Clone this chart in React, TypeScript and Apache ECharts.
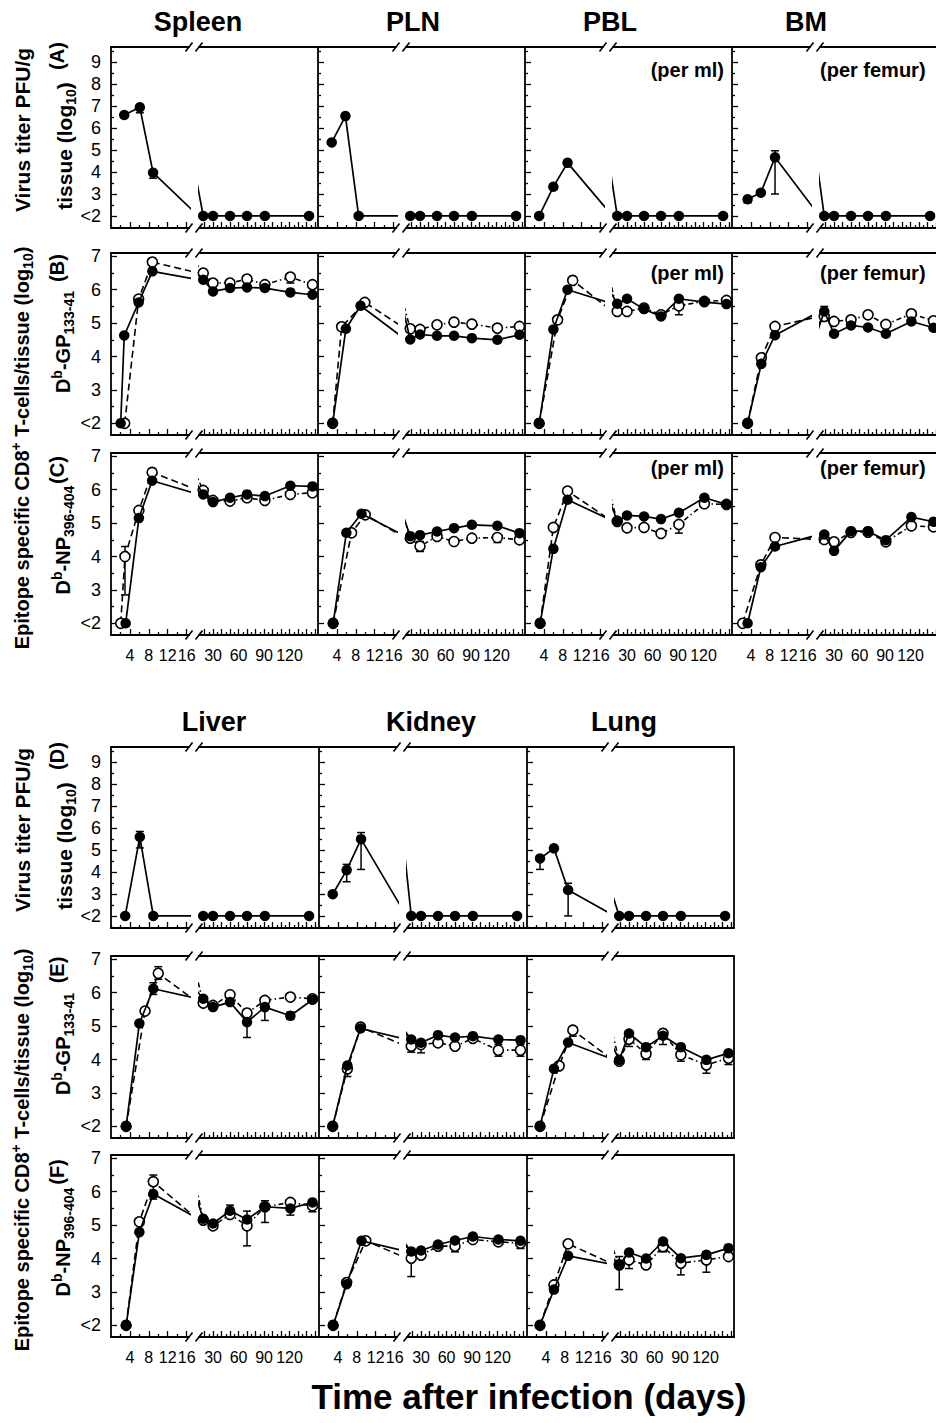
import React, { useEffect, useRef } from "react";
import * as echarts from "echarts";

type Pt = [number, number];
type Err = [number, number, number];

// ---------------- tick values / labels ----------------
const X_LABELS_EARLY = [4, 8, 12, 16];
const X_LABELS_LATE = [30, 60, 90, 120];
const X_MAJOR_EARLY = [4, 8, 12, 16];
const X_MINOR_EARLY = [2, 6, 10, 14];
const X_MAJOR_LATE = [20, 30, 40, 50, 60, 70, 80, 90, 100, 110, 120, 130, 140, 150];
const X_MINOR_LATE = [15, 25, 35, 45, 55, 65, 75, 85, 95, 105, 115, 125, 135, 145];
const Y_TICKS_VIRUS = [2, 3, 4, 5, 6, 7, 8, 9];
const Y_TICKS_T = [2, 3, 4, 5, 6, 7];

// late time points (days)
const LATE_V = [18.5, 30, 50, 70, 91, 143];
const LATE_T = [18.5, 30, 50, 70, 91, 121, 147];

// ---------------- Spleen ----------------
const SPLEEN_A_F: Pt[] = [[2.8, 6.6], [6.1, 6.95], [8.9, 3.97]];
const SPLEEN_A_FL = [2, 2, 2, 2, 2, 2];
const SPLEEN_A_E: Err[] = [[6.1, 6.7, 6.95], [8.9, 3.72, 4.02]];
const SPLEEN_B_F: Pt[] = [[2.05, 2], [2.8, 4.63], [5.85, 5.62], [8.75, 6.55]];
const SPLEEN_B_FL = [6.3, 5.95, 6.05, 6.07, 6.05, 5.92, 5.85];
const SPLEEN_B_O: Pt[] = [[2.9, 2], [5.85, 5.72], [8.75, 6.83]];
const SPLEEN_B_OL = [6.5, 6.2, 6.2, 6.32, 6.15, 6.38, 6.15];
const SPLEEN_B_E: Err[] = [[121, 6.2, 6.42]];
const SPLEEN_C_F: Pt[] = [[3.1, 2], [5.9, 5.15], [8.7, 6.27]];
const SPLEEN_C_FL = [5.86, 5.63, 5.76, 5.86, 5.81, 6.12, 6.1];
const SPLEEN_C_O: Pt[] = [[2.05, 2], [2.96, 4.0], [5.9, 5.38], [8.7, 6.52]];
const SPLEEN_C_OL = [5.98, 5.68, 5.66, 5.76, 5.68, 5.86, 5.91];
const SPLEEN_C_E: Err[] = [[2.96, 2.85, 4.3]];

// ---------------- PLN ----------------
const PLN_A_F: Pt[] = [[2.9, 5.35], [5.8, 6.55], [8.6, 2]];
const PLN_A_FL = [2, 2, 2, 2, 2, 2];
const PLN_B_F: Pt[] = [[3.1, 2], [5.9, 4.83], [9.0, 5.52]];
const PLN_B_FL = [4.51, 4.66, 4.62, 4.62, 4.55, 4.5, 4.65];
const PLN_B_O: Pt[] = [[3.1, 2], [5.0, 4.89], [9.9, 5.62]];
const PLN_B_OL = [4.83, 4.81, 4.95, 5.03, 4.97, 4.85, 4.9];
const PLN_C_F: Pt[] = [[3.2, 2], [6.0, 4.71], [9.2, 5.28]];
const PLN_C_FL = [4.61, 4.64, 4.75, 4.85, 4.95, 4.92, 4.7];
const PLN_C_O: Pt[] = [[3.2, 2], [7.1, 4.71], [10.0, 5.25]];
const PLN_C_OL = [4.55, 4.31, 4.6, 4.45, 4.55, 4.57, 4.5];
const PLN_C_E: Err[] = [[30, 4.15, 4.45], [121, 4.42, 4.62]];

// ---------------- PBL ----------------
const PBL_A_F: Pt[] = [[3.0, 2], [6.0, 3.33], [9.0, 4.42]];
const PBL_A_FL = [2, 2, 2, 2, 2, 2];
const PBL_B_F: Pt[] = [[3.0, 2], [6.0, 4.81], [9.0, 6.0]];
const PBL_B_FL = [5.58, 5.73, 5.42, 5.2, 5.73, 5.63, 5.57];
const PBL_B_O: Pt[] = [[3.0, 2], [6.9, 5.1], [10.1, 6.28]];
const PBL_B_OL = [5.35, 5.35, 5.45, 5.25, 5.52, 5.65, 5.68];
const PBL_B_E: Err[] = [[91, 5.25, 5.55]];
const PBL_C_F: Pt[] = [[3.2, 2], [6.0, 4.23], [9.0, 5.7]];
const PBL_C_FL = [5.07, 5.23, 5.2, 5.12, 5.31, 5.76, 5.56];
const PBL_C_O: Pt[] = [[3.2, 2], [6.0, 4.87], [9.0, 5.96]];
const PBL_C_OL = [5.05, 4.86, 4.87, 4.69, 4.96, 5.58, 5.56];
const PBL_C_E: Err[] = [[91, 4.7, 5.0]];

// ---------------- BM ----------------
const BM_A_F: Pt[] = [[3.3, 2.76], [6.1, 3.06], [9.1, 4.67]];
const BM_A_FL = [2, 2, 2, 2, 2, 2];
const BM_A_E: Err[] = [[3.3, 2.6, 2.85], [9.1, 3.0, 4.97]];
const BM_B_F: Pt[] = [[3.3, 2], [6.2, 3.78], [9.1, 4.64]];
const BM_B_FL = [5.35, 4.68, 4.93, 4.87, 4.68, 5.05, 4.86];
const BM_B_O: Pt[] = [[3.3, 2], [6.2, 3.96], [9.1, 4.9]];
const BM_B_OL = [5.2, 5.05, 5.1, 5.25, 4.96, 5.28, 5.07];
const BM_B_E: Err[] = [[18.5, 5.15, 5.5]];
const BM_C_F: Pt[] = [[3.3, 2], [6.1, 3.68], [9.1, 4.3]];
const BM_C_FL = [4.66, 4.17, 4.76, 4.76, 4.49, 5.18, 5.04];
const BM_C_O: Pt[] = [[2.25, 2], [6.1, 3.75], [9.1, 4.57]];
const BM_C_OL = [4.51, 4.44, 4.72, 4.73, 4.44, 4.92, 4.89];

// ---------------- Liver ----------------
const LIVER_D_F: Pt[] = [[3.0, 2], [6.1, 5.6], [8.95, 2]];
const LIVER_D_FL = [2, 2, 2, 2, 2, 2];
const LIVER_D_E: Err[] = [[6.1, 5.1, 5.85]];
const LIVER_E_F: Pt[] = [[3.2, 2], [6.0, 5.08], [8.95, 6.12]];
const LIVER_E_FL = [5.82, 5.57, 5.72, 5.12, 5.57, 5.31, 5.79];
const LIVER_E_O: Pt[] = [[3.2, 2], [7.2, 5.45], [10.0, 6.58]];
const LIVER_E_OL = [5.69, 5.62, 5.94, 5.39, 5.77, 5.87, 5.82];
const LIVER_E_E: Err[] = [[8.95, 5.95, 6.3], [70, 4.66, 5.47], [91, 5.17, 5.6], [121, 5.2, 5.42], [10.0, 6.4, 6.78], [70, 5.2, 5.5]];
const LIVER_F_F: Pt[] = [[3.2, 2], [6.0, 4.79], [8.95, 5.93]];
const LIVER_F_FL = [5.19, 5.05, 5.43, 5.17, 5.55, 5.5, 5.68];
const LIVER_F_O: Pt[] = [[3.2, 2], [6.0, 5.1], [8.95, 6.3]];
const LIVER_F_OL = [5.15, 4.98, 5.32, 4.98, 5.55, 5.68, 5.58];
const LIVER_F_E: Err[] = [[8.95, 5.78, 6.5], [50, 5.27, 5.6], [70, 4.38, 5.42], [91, 5.08, 5.73], [121, 5.3, 5.6], [147, 5.4, 5.7]];

// ---------------- Kidney ----------------
const KIDNEY_D_F: Pt[] = [[2.9, 2.99], [5.85, 4.09], [8.9, 5.5]];
const KIDNEY_D_FL = [2, 2, 2, 2, 2, 2];
const KIDNEY_D_E: Err[] = [[5.85, 3.56, 4.35], [8.9, 4.12, 5.8]];
const KIDNEY_E_F: Pt[] = [[2.9, 2], [6.0, 3.82], [8.8, 4.93]];
const KIDNEY_E_FL = [4.6, 4.5, 4.73, 4.66, 4.7, 4.6, 4.58];
const KIDNEY_E_O: Pt[] = [[2.9, 2], [6.0, 3.72], [8.8, 4.97]];
const KIDNEY_E_OL = [4.4, 4.45, 4.5, 4.4, 4.63, 4.28, 4.28];
const KIDNEY_E_E: Err[] = [[6.0, 3.49, 3.9], [18.5, 4.22, 4.55], [30, 4.2, 4.5], [121, 4.1, 4.45], [147, 4.1, 4.45]];
const KIDNEY_F_F: Pt[] = [[3.0, 2], [5.85, 3.23], [9.0, 4.53]];
const KIDNEY_F_FL = [4.21, 4.24, 4.42, 4.54, 4.66, 4.57, 4.53];
const KIDNEY_F_O: Pt[] = [[3.0, 2], [5.85, 3.28], [9.9, 4.53]];
const KIDNEY_F_OL = [4.01, 4.1, 4.37, 4.37, 4.57, 4.5, 4.46];
const KIDNEY_F_E: Err[] = [[18.5, 3.46, 4.3], [70, 4.2, 4.55], [147, 4.3, 4.6]];

// ---------------- Lung ----------------
const LUNG_D_F: Pt[] = [[2.75, 4.62], [5.7, 5.08], [8.7, 3.18]];
const LUNG_D_FL = [2, 2, 2, 2, 2, 2];
const LUNG_D_E: Err[] = [[2.75, 4.12, 4.75], [8.7, 2.0, 3.49]];
const LUNG_E_F: Pt[] = [[2.75, 2], [5.7, 3.72], [8.7, 4.51]];
const LUNG_E_FL = [3.99, 4.78, 4.37, 4.71, 4.37, 3.99, 4.19];
const LUNG_E_O: Pt[] = [[2.75, 2], [6.8, 3.81], [9.7, 4.88]];
const LUNG_E_OL = [3.95, 4.61, 4.17, 4.78, 4.14, 3.84, 4.04];
const LUNG_E_E: Err[] = [[9.7, 4.7, 4.95], [30, 4.39, 4.75], [50, 4.0, 4.3], [70, 4.45, 4.9], [91, 3.95, 4.3], [121, 3.59, 4.0], [147, 3.85, 4.15]];
const LUNG_F_F: Pt[] = [[2.75, 2], [5.7, 3.07], [8.7, 4.08]];
const LUNG_F_FL = [3.81, 4.18, 4.0, 4.51, 4.01, 4.11, 4.31];
const LUNG_F_O: Pt[] = [[2.75, 2], [5.7, 3.21], [8.7, 4.44]];
const LUNG_F_OL = [3.81, 3.96, 3.81, 4.36, 3.86, 3.96, 4.06];
const LUNG_F_E: Err[] = [[18.5, 3.07, 4.06], [30, 3.7, 4.1], [70, 4.2, 4.55], [91, 3.51, 4.0], [121, 3.59, 4.2]];

// ---------------- layout ----------------
const FONT = '"Liberation Sans", Arial, Helvetica, sans-serif';
const PANEL_W = 207;
const SEG_L_W = 78;
const SEG_R_OFF = 88;
const LEFT_DOMAIN: [number, number] = [0, 16.5];
const RIGHT_DOMAIN: [number, number] = [13.5, 153.5];
const VIRUS_RANGE: [number, number] = [1.45, 9.7];
const T_RANGE: [number, number] = [1.65, 7.1];

interface Row { f: Pt[]; fl: number[]; o?: Pt[]; ol?: number[]; e?: Err[] }
const row = (f: Pt[], fl: number[], o?: Pt[], ol?: number[], e?: Err[]): Row => ({ f, fl, o, ol, e });

const TOP_ROWS = [
  { top: 47, h: 181, virus: true },
  { top: 253, h: 182, virus: false },
  { top: 453, h: 182, virus: false },
];
const BOT_ROWS = [
  { top: 747, h: 181, virus: true },
  { top: 956, h: 182, virus: false },
  { top: 1155, h: 182, virus: false },
];

const TOP_PANELS = [
  { L: 111, title: "Spleen", tx: 198, rows: [row(SPLEEN_A_F, SPLEEN_A_FL, undefined, undefined, SPLEEN_A_E), row(SPLEEN_B_F, SPLEEN_B_FL, SPLEEN_B_O, SPLEEN_B_OL, SPLEEN_B_E), row(SPLEEN_C_F, SPLEEN_C_FL, SPLEEN_C_O, SPLEEN_C_OL, SPLEEN_C_E)] },
  { L: 318, title: "PLN", tx: 413, rows: [row(PLN_A_F, PLN_A_FL), row(PLN_B_F, PLN_B_FL, PLN_B_O, PLN_B_OL), row(PLN_C_F, PLN_C_FL, PLN_C_O, PLN_C_OL, PLN_C_E)] },
  { L: 525, title: "PBL", tx: 610, rows: [row(PBL_A_F, PBL_A_FL), row(PBL_B_F, PBL_B_FL, PBL_B_O, PBL_B_OL, PBL_B_E), row(PBL_C_F, PBL_C_FL, PBL_C_O, PBL_C_OL, PBL_C_E)] },
  { L: 732, title: "BM", tx: 806, rows: [row(BM_A_F, BM_A_FL, undefined, undefined, BM_A_E), row(BM_B_F, BM_B_FL, BM_B_O, BM_B_OL, BM_B_E), row(BM_C_F, BM_C_FL, BM_C_O, BM_C_OL)] },
];
const BOT_PANELS = [
  { L: 111, title: "Liver", tx: 214, rows: [row(LIVER_D_F, LIVER_D_FL, undefined, undefined, LIVER_D_E), row(LIVER_E_F, LIVER_E_FL, LIVER_E_O, LIVER_E_OL, LIVER_E_E), row(LIVER_F_F, LIVER_F_FL, LIVER_F_O, LIVER_F_OL, LIVER_F_E)] },
  { L: 319, title: "Kidney", tx: 431, rows: [row(KIDNEY_D_F, KIDNEY_D_FL, undefined, undefined, KIDNEY_D_E), row(KIDNEY_E_F, KIDNEY_E_FL, KIDNEY_E_O, KIDNEY_E_OL, KIDNEY_E_E), row(KIDNEY_F_F, KIDNEY_F_FL, KIDNEY_F_O, KIDNEY_F_OL, KIDNEY_F_E)] },
  { L: 527, title: "Lung", tx: 624, rows: [row(LUNG_D_F, LUNG_D_FL, undefined, undefined, LUNG_D_E), row(LUNG_E_F, LUNG_E_FL, LUNG_E_O, LUNG_E_OL, LUNG_E_E), row(LUNG_F_F, LUNG_F_FL, LUNG_F_O, LUNG_F_OL, LUNG_F_E)] },
];

const RICH = {
  sub: { fontSize: 14, fontWeight: "bold", fontFamily: FONT, verticalAlign: "bottom", lineHeight: 14, fill: "#000" },
  sup: { fontSize: 14, fontWeight: "bold", fontFamily: FONT, verticalAlign: "top", lineHeight: 14, fill: "#000" },
};

function txt(x: number, y: number, text: string, size: number, opts: any = {}) {
  return {
    type: "text",
    x,
    y,
    rotation: opts.rot || 0,
    z: 20,
    style: {
      text,
      fontSize: size,
      fontWeight: opts.weight || "bold",
      fontFamily: FONT,
      fill: "#000",
      lineHeight: opts.lineHeight || size + 6,
      align: opts.align || "center",
      verticalAlign: "middle",
      textAlign: opts.align || "center",
      textVerticalAlign: "middle",
      rich: opts.rich,
    },
  };
}

function seriesData(early: Pt[], days: number[], late: number[]): Pt[] {
  return [...early, ...days.map((d, i) => [d, late[i]] as Pt)];
}

function buildOption() {
  const grid: any[] = [];
  const xAxis: any[] = [];
  const yAxis: any[] = [];
  const series: any[] = [];
  const graphic: any[] = [];
  const lineStyleAxis = { color: "#000", width: 1.8 };
  const tickStyle = { color: "#000", width: 1.3 };

  const addPanel = (L: number, top: number, h: number, virus: boolean, r: Row, firstCol: boolean, lastCol: boolean, bottomRow: boolean) => {
    const yr = virus ? VIRUS_RANGE : T_RANGE;
    const yMajor = virus ? Y_TICKS_VIRUS : Y_TICKS_T;
    const yMinor = (virus ? [1.5] : []).concat(yMajor.map((v) => v + 0.5).filter((v) => v < yr[1]));
    const lateDays = virus ? LATE_V : LATE_T;
    const filled = seriesData(r.f, lateDays, r.fl);
    const open = r.o && r.ol ? seriesData(r.o, lateDays, r.ol) : null;

    (["L", "R"] as const).forEach((seg) => {
      const gi = grid.length;
      const left = seg === "L" ? L : L + SEG_R_OFF;
      const width = seg === "L" ? SEG_L_W : PANEL_W - SEG_R_OFF;
      const dom = seg === "L" ? LEFT_DOMAIN : RIGHT_DOMAIN;
      grid.push({ left, top, width, height: h, containLabel: false, outerBoundsMode: "none", show: false });

      const xi = xAxis.length;
      xAxis.push({
        type: "value", gridIndex: gi, position: "bottom", min: dom[0], max: dom[1],
        axisLine: { show: true, onZero: false, lineStyle: lineStyleAxis },
        axisTick: { show: true, inside: true, length: 6, customValues: seg === "L" ? X_MAJOR_EARLY : X_MAJOR_LATE, lineStyle: tickStyle },
        axisLabel: { show: bottomRow, customValues: seg === "L" ? X_LABELS_EARLY : X_LABELS_LATE, color: "#000", fontSize: 16, fontFamily: FONT, margin: 12 },
        splitLine: { show: false },
      });
      xAxis.push({
        type: "value", gridIndex: gi, position: "bottom", min: dom[0], max: dom[1],
        axisLine: { show: false },
        axisTick: { show: true, inside: true, length: 3, customValues: seg === "L" ? X_MINOR_EARLY : X_MINOR_LATE, lineStyle: tickStyle },
        axisLabel: { show: false },
        splitLine: { show: false },
      });
      xAxis.push({
        type: "value", gridIndex: gi, position: "top", min: dom[0], max: dom[1],
        axisLine: { show: true, onZero: false, lineStyle: lineStyleAxis },
        axisTick: { show: false }, axisLabel: { show: false }, splitLine: { show: false },
      });

      const yi = yAxis.length;
      if (seg === "L") {
        yAxis.push({
          type: "value", gridIndex: gi, position: "left", min: yr[0], max: yr[1],
          axisLine: { show: true, onZero: false, lineStyle: lineStyleAxis },
          axisTick: { show: true, inside: true, length: 6, customValues: yMajor, lineStyle: tickStyle },
          axisLabel: {
            show: firstCol, customValues: yMajor, color: "#000", fontSize: 18, fontFamily: FONT, margin: 10,
            formatter: (v: number) => (v === 2 ? "<2" : String(v)),
          },
          splitLine: { show: false },
        });
        yAxis.push({
          type: "value", gridIndex: gi, position: "left", min: yr[0], max: yr[1],
          axisLine: { show: false },
          axisTick: { show: true, inside: true, length: 3, customValues: yMinor, lineStyle: tickStyle },
          axisLabel: { show: false }, splitLine: { show: false },
        });
      } else {
        yAxis.push({
          type: "value", gridIndex: gi, position: "right", min: yr[0], max: yr[1],
          axisLine: { show: lastCol, onZero: false, lineStyle: lineStyleAxis },
          axisTick: { show: false }, axisLabel: { show: false }, splitLine: { show: false },
        });
      }

      if (r.e) {
        const errs = r.e.filter((e) => e[0] >= dom[0] && e[0] <= dom[1]);
        if (errs.length) {
          series.push({
            type: "custom", xAxisIndex: xi, yAxisIndex: yi, data: errs, clip: true, z: 2,
            encode: { x: 0, y: [1, 2] },
            renderItem: (params: any, api: any) => {
              const x = api.value(0);
              const p1 = api.coord([x, api.value(1)]);
              const p2 = api.coord([x, api.value(2)]);
              const hw = 4;
              const st = { stroke: "#000", lineWidth: 1.5 };
              return {
                type: "group",
                children: [
                  { type: "line", shape: { x1: p1[0], y1: p1[1], x2: p2[0], y2: p2[1] }, style: st },
                  { type: "line", shape: { x1: p1[0] - hw, y1: p1[1], x2: p1[0] + hw, y2: p1[1] }, style: st },
                  { type: "line", shape: { x1: p2[0] - hw, y1: p2[1], x2: p2[0] + hw, y2: p2[1] }, style: st },
                ],
              };
            },
          });
        }
      }
      if (open) {
        series.push({
          type: "line", xAxisIndex: xi, yAxisIndex: yi, data: open, clip: true, z: 3,
          symbol: "circle", symbolSize: 10, showSymbol: true, showAllSymbol: true,
          lineStyle: { color: "#000", width: 1.6, type: seg === "L" ? [7, 4] : [5, 3, 1.5, 3] },
          itemStyle: { color: "#fff", borderColor: "#000", borderWidth: 1.6 },
          emphasis: { disabled: true },
        });
      }
      series.push({
        type: "line", xAxisIndex: xi, yAxisIndex: yi, data: filled, clip: true, z: 4,
        symbol: "circle", symbolSize: 10.5, showSymbol: true, showAllSymbol: true,
        lineStyle: { color: "#000", width: 1.7, type: "solid" },
        itemStyle: { color: "#000", borderColor: "#000", borderWidth: 0 },
        emphasis: { disabled: true },
      });
    });

    // break marks
    [top, top + h].forEach((yy) => {
      [L + SEG_L_W, L + SEG_R_OFF].forEach((cx) => {
        graphic.push({
          type: "line", z: 20,
          shape: { x1: cx - 3.5, y1: yy + 4.5, x2: cx + 3.5, y2: yy - 4.5 },
          style: { stroke: "#000", lineWidth: 1.6 },
        });
      });
    });
  };

  TOP_PANELS.forEach((p, ci) => {
    TOP_ROWS.forEach((rw, ri) => addPanel(p.L, rw.top, rw.h, rw.virus, p.rows[ri], ci === 0, ci === TOP_PANELS.length - 1, ri === 2));
    graphic.push(txt(p.tx, 22, p.title, 27));
  });
  BOT_PANELS.forEach((p, ci) => {
    BOT_ROWS.forEach((rw, ri) => addPanel(p.L, rw.top, rw.h, rw.virus, p.rows[ri], ci === 0, ci === BOT_PANELS.length - 1, ri === 2));
    graphic.push(txt(p.tx, 722, p.title, 27));
  });

  // per ml / per femur annotations
  [70, 273, 468].forEach((yy) => {
    graphic.push(txt(724, yy, "(per ml)", 20, { align: "right" }));
    graphic.push(txt(820, yy, "(per femur)", 20, { align: "left" }));
  });

  // Y axis titles (top & bottom blocks)
  const R = Math.PI / 2;
  [0, 700].forEach((dy, bi) => {
    const tdy = bi === 0 ? 0 : 702;
    graphic.push(txt(22, 130 + dy, "Virus titer PFU/g", 21, { rot: R }));
    graphic.push(txt(64, 146 + dy, "tissue (log{sub|10})", 21, { rot: R, rich: RICH, lineHeight: 27 }));
    graphic.push(txt(57, 56 + dy, bi === 0 ? "(A)" : "(D)", 20, { rot: R }));
    graphic.push(txt(22, 448 + tdy, "Epitope specific CD8{sup|+} T-cells/tissue (log{sub|10})", 20, { rot: R, rich: RICH, lineHeight: 26 }));
    graphic.push(txt(57, 268 + tdy, bi === 0 ? "(B)" : "(E)", 20, { rot: R }));
    graphic.push(txt(63, 342 + tdy, "D{sup|b}-GP{sub|133-41}", 20, { rot: R, rich: RICH, lineHeight: 26 }));
    graphic.push(txt(57, 470 + tdy, bi === 0 ? "(C)" : "(F)", 20, { rot: R }));
    graphic.push(txt(63, 540 + tdy, "D{sup|b}-NP{sub|396-404}", 20, { rot: R, rich: RICH, lineHeight: 26 }));
  });

  graphic.push(txt(529, 1396, "Time after infection (days)", 35));

  return {
    animation: false,
    backgroundColor: "#fff",
    textStyle: { fontFamily: FONT },
    grid,
    xAxis,
    yAxis,
    series,
    graphic,
  };
}

export default function App() {
  const ref = useRef<HTMLDivElement>(null);
  useEffect(() => {
    if (!ref.current) return;
    const chart = echarts.init(ref.current, null, { renderer: "svg" });
    chart.setOption(buildOption() as any);
    return () => chart.dispose();
  }, []);
  return <div ref={ref} style={{ position: "absolute", left: 0, top: 0, width: 936, height: 1423, background: "#fff" }} />;
}
